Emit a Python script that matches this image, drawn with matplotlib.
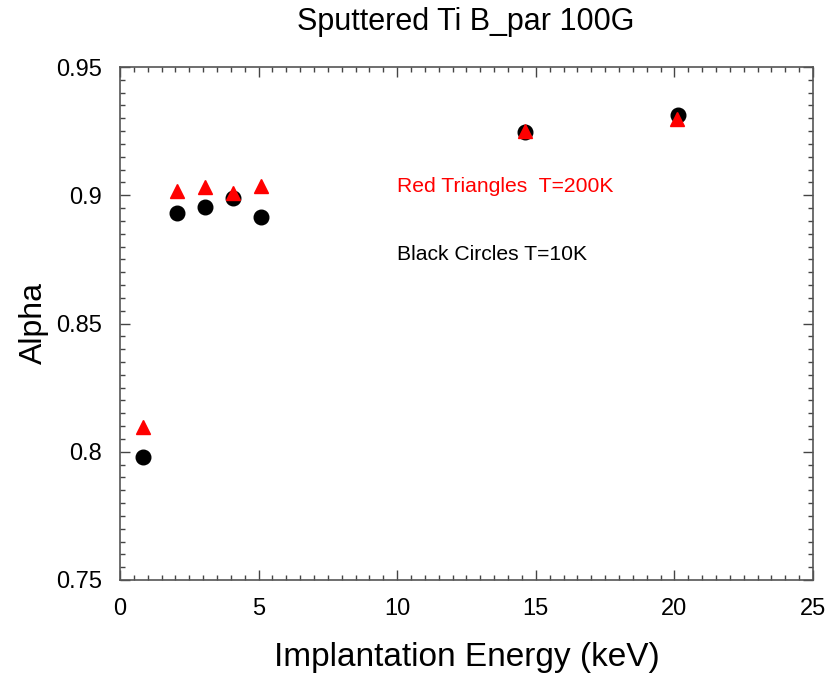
import matplotlib
matplotlib.use("Agg")
import matplotlib.pyplot as plt
from matplotlib.ticker import MultipleLocator

plt.rcParams['font.family'] = ['Liberation Sans', 'DejaVu Sans']

energy_black = [0.83, 2.05, 3.07, 4.09, 5.08, 14.61, 20.14]
alpha_black = [0.798, 0.893, 0.8953, 0.8988, 0.8914, 0.9248, 0.9313]
err_black = [0.002, 0.0015, 0.0015, 0.0015, 0.0015, 0.0015, 0.0015]

energy_red = [0.83, 2.05, 3.07, 4.09, 5.08, 14.61, 20.1]
alpha_red = [0.8098, 0.9018, 0.9031, 0.901, 0.9036, 0.9252, 0.9296]
err_red = [0.0015, 0.0015, 0.0015, 0.0015, 0.0015, 0.002, 0.002]

fig = plt.figure(figsize=(8.31, 6.79), dpi=100)
ax = fig.add_axes([120/831, 1-580/679, (813-120)/831, (580-67)/679])

ax.errorbar(energy_black, alpha_black, yerr=err_black, fmt='o', color='black',
            markersize=10.5, elinewidth=1, capsize=0, zorder=2)
ax.errorbar(energy_red, alpha_red, yerr=err_red, fmt='^', color='red',
            markersize=10.5, elinewidth=1, capsize=0, zorder=3)

ax.set_xlim(0, 25)
ax.set_ylim(0.75, 0.95)
ax.xaxis.set_major_locator(MultipleLocator(5))
ax.xaxis.set_minor_locator(MultipleLocator(0.5))
ax.yaxis.set_major_locator(MultipleLocator(0.05))
ax.yaxis.set_minor_locator(MultipleLocator(0.005))
ax.set_yticks([0.75, 0.8, 0.85, 0.9, 0.95])
ax.set_yticklabels(['0.75', '0.8', '0.85', '0.9', '0.95'])
ax.tick_params(which='both', direction='in', top=True, right=True, labelsize=17, width=1, color='#444444')
ax.tick_params(which='major', length=7)
ax.tick_params(axis='y', which='major', pad=13)
ax.tick_params(axis='x', which='major', pad=13)
ax.tick_params(which='minor', length=3.5)
for s in ax.spines.values():
    s.set_color('#555555')
    s.set_linewidth(1.2)

ax.set_xlabel('Implantation Energy (keV)', fontsize=24, labelpad=16)
ax.set_ylabel('Alpha', fontsize=23, labelpad=5)
fig.text(466/831, 1-22/679, 'Sputtered Ti B_par 100G', fontsize=22, ha='center', va='center')

ax.text(10.0, 0.9035, 'Red Triangles  T=200K', color='red', fontsize=15.2, va='center')
ax.text(10.0, 0.877, 'Black Circles T=10K', color='black', fontsize=15.2, va='center')

fig.savefig('out.png', dpi=100)
